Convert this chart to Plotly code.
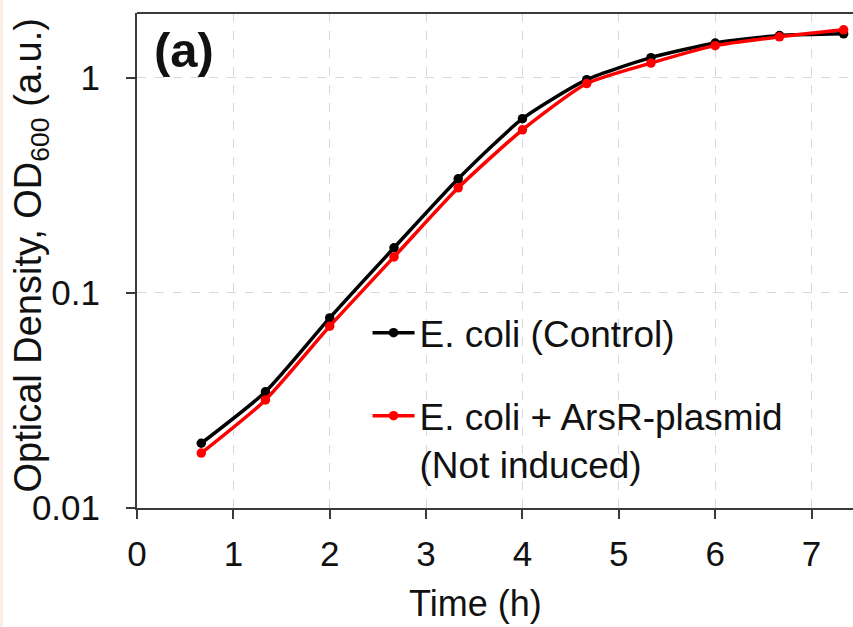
import plotly.graph_objects as go

time_h = [0.667, 1.333, 2.0, 2.667, 3.333, 4.0, 4.667, 5.333, 6.0, 6.667, 7.333]
od_control = [0.020, 0.0347, 0.0765, 0.162, 0.339, 0.645, 0.98, 1.24, 1.45, 1.57, 1.60]
od_arsr = [0.018, 0.0318, 0.070, 0.147, 0.308, 0.573, 0.94, 1.17, 1.41, 1.55, 1.67]
name_control = "E. coli (Control)"
name_arsr = "E. coli + ArsR-plasmid<br>(Not induced)"
x_ticks = [0, 1, 2, 3, 4, 5, 6, 7]
y_ticks = [0.01, 0.1, 1]
y_ticktext = ["0.01", "0.1", "1"]
x_title = "Time (h)"
y_title = "Optical Density, OD<sub>600</sub> (a.u.)"
panel_label = "<b>(a)</b>"

FONT = "Liberation Sans, Arial, sans-serif"
TXT = "#111111"
AX = "#3a3a3a"
PW, PH = 716, 495  # plot area size in px

fig = go.Figure()
fig.add_trace(go.Scatter(
    x=time_h, y=od_control, name=name_control, mode="lines+markers",
    line=dict(color="black", width=3.5, shape="spline", smoothing=0.6),
    marker=dict(color="black", size=9.5), legendgroup="a"))
fig.add_trace(go.Scatter(
    x=time_h, y=od_arsr, name=name_arsr, mode="lines+markers",
    line=dict(color="#ff0000", width=3.5, shape="spline", smoothing=0.6),
    marker=dict(color="#ff0000", size=9.5), legendgroup="b"))

fig.update_layout(
    width=853, height=627,
    margin=dict(l=137, r=0, t=13, b=119),
    paper_bgcolor="white", plot_bgcolor="white",
    font=dict(family=FONT, size=35, color=TXT),
    showlegend=True,
    legend=dict(x=0.322, y=0.416, xanchor="left", yanchor="top",
                bgcolor="rgba(0,0,0,0)", font=dict(size=37, color=TXT),
                valign="top", traceorder="grouped", tracegroupgap=32,
                itemwidth=42),
    annotations=[
        dict(text=panel_label, x=0.021, y=0.925, xref="paper", yref="paper",
             xanchor="left", yanchor="middle", showarrow=False,
             font=dict(size=49, color=TXT, family=FONT)),
        dict(text=y_title, x=-106 / PW, y=0.51, xref="paper", yref="paper",
             xanchor="center", yanchor="middle", textangle=-90, showarrow=False,
             font=dict(size=38, color=TXT, family=FONT)),
        dict(text=x_title, x=(475 - 137) / PW, y=-95 / PH, xref="paper", yref="paper",
             xanchor="center", yanchor="middle", showarrow=False,
             font=dict(size=36, color=TXT, family=FONT)),
    ],
)
fig.update_xaxes(
    range=[0, 7.43], tickvals=x_ticks, ticks="outside", ticklen=9, tickwidth=2,
    tickcolor=AX, showline=True, linecolor=AX, linewidth=2, mirror=False,
    showgrid=True, gridcolor="#d8d8d8", griddash="dash", gridwidth=1.2, zeroline=False,
    tickfont=dict(size=35, color=TXT), ticklabelstandoff=5)
fig.update_yaxes(
    type="log", range=[-2, 0.301], tickvals=y_ticks, ticktext=y_ticktext,
    ticks="outside", ticklen=9, tickwidth=2, tickcolor=AX,
    showline=True, linecolor=AX, linewidth=2, mirror=False,
    showgrid=True, gridcolor="#d8d8d8", griddash="dash", gridwidth=1.2, zeroline=False,
    tickfont=dict(size=35, color=TXT), ticklabelstandoff=19)
# top frame line
fig.add_shape(type="line", xref="paper", yref="paper", x0=0, x1=1, y0=1, y1=1,
              line=dict(color=AX, width=2))
# faint peach strip at the very left edge of the image
fig.add_shape(type="rect", xref="paper", yref="paper", x0=-137 / PW, x1=-134 / PW,
              y0=-119 / PH, y1=1 + 13 / PH, line=dict(width=0), fillcolor="#fbeee5",
              layer="below")

fig.write_html("out.html")
